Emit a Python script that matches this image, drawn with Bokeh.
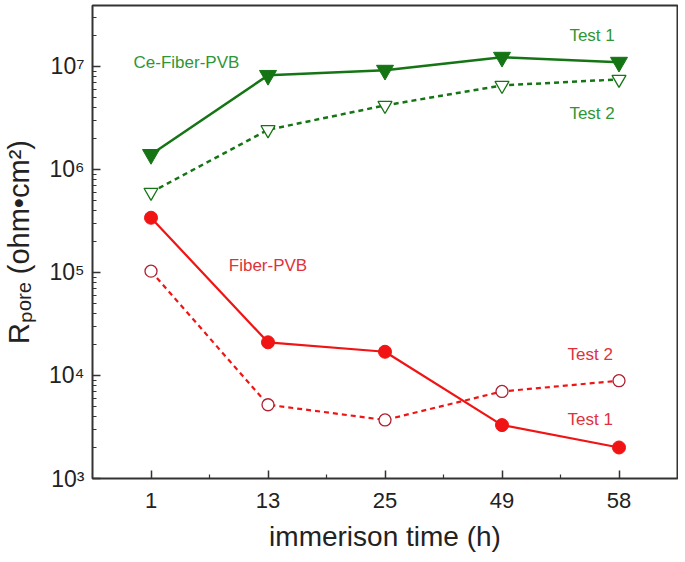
from bokeh.plotting import figure
from bokeh.models import Range1d, FixedTicker, CustomJSTickFormatter, Label, ColumnDataSource
from bokeh.embed import file_html
from bokeh.resources import INLINE

# ---- data ----
times = ["1", "13", "25", "49", "58"]
ce_test1 = [1.4e6, 8.2e6, 9.2e6, 1.23e7, 1.1e7]
ce_test2 = [6.0e5, 2.43e6, 4.19e6, 6.55e6, 7.5e6]
fiber_test1 = [3.4e5, 2.1e4, 1.7e4, 3.3e3, 2.0e3]
fiber_test2 = [1.03e5, 5.2e3, 3.7e3, 7.0e3, 8.9e3]
y_decades = [3, 4, 5, 6, 7]

xi = list(range(len(times)))

FONT = "Liberation Sans"
GREEN = "#157515"
GREEN_TXT = "#2f9636"
RED = "#f01414"
RED_DARK = "#b02030"
RED_TXT = "#e0323c"
FRAME = "#333333"

Y_TOP_LOG = 7.592
p = figure(width=678, height=560,
           x_range=Range1d(-0.5, 4.5), y_range=Range1d(1e3, 10 ** Y_TOP_LOG),
           y_axis_type="log", output_backend="svg", toolbar_location=None,
           min_border_left=92, min_border_right=1, min_border_top=5, min_border_bottom=82)
p.grid.visible = False
p.outline_line_color = FRAME
p.outline_line_width = 2
p.background_fill_color = "white"
p.border_fill_color = "white"

# x axis
p.xaxis.ticker = FixedTicker(ticks=xi, minor_ticks=[i + 0.5 for i in xi[:-1]])
p.xaxis.major_label_overrides = {i: t for i, t in zip(xi, times)}
p.xaxis.axis_label = "immerison time (h)"
# y axis
p.yaxis.ticker = FixedTicker(ticks=[10 ** d for d in y_decades],
                             minor_ticks=[m * 10 ** d for d in y_decades for m in range(2, 10)])
p.yaxis.formatter = CustomJSTickFormatter(code="""
const sup = {"0":"\u2070","1":"\u00b9","2":"\u00b2","3":"\u00b3","4":"\u2074","5":"\u2075","6":"\u2076","7":"\u2077","8":"\u2078","9":"\u2079","-":"\u207b"};
const e = Math.round(Math.log10(tick));
return "10" + String(e).split("").map(c => sup[c]).join("");
""")
p.yaxis.axis_label = "R\u209a\u2092\u1d63\u2091 (ohm\u2022cm\u00b2)"

for ax in p.axis:
    ax.axis_line_color = None
    ax.major_tick_in = 8
    ax.major_tick_out = 0
    ax.minor_tick_in = 4
    ax.minor_tick_out = 0
    ax.major_tick_line_color = FRAME
    ax.minor_tick_line_color = FRAME
    ax.major_tick_line_width = 1.5
    ax.minor_tick_line_width = 1.2
    ax.major_label_text_font = FONT
    ax.major_label_text_color = "#222222"
    ax.axis_label_text_font = FONT
    ax.axis_label_text_font_style = "normal"
    ax.axis_label_text_color = "#222222"

p.xaxis.major_label_text_font_size = "22px"
p.xaxis.major_label_standoff = 14
p.xaxis.axis_label_text_font_size = "28px"
p.xaxis.axis_label_standoff = 10
p.yaxis.major_label_text_font_size = "23px"
p.yaxis.major_label_standoff = 8
p.yaxis.axis_label_text_font_size = "29px"
p.yaxis.axis_label_standoff = 11

# ---- series ----
src = ColumnDataSource(dict(x=xi, ce1=ce_test1, ce2=ce_test2, f1=fiber_test1, f2=fiber_test2))

p.line("x", "ce1", source=src, line_color=GREEN, line_width=2.5)
p.line("x", "ce2", source=src, line_color=GREEN, line_width=2.5, line_dash="5 4")
p.line("x", "f1", source=src, line_color=RED, line_width=2.2)
p.line("x", "f2", source=src, line_color=RED, line_width=2.2, line_dash="5 4")

p.scatter("x", "ce1", source=src, marker="inverted_triangle", size=17,
          fill_color=GREEN, line_color=GREEN)
p.scatter("x", "ce2", source=src, marker="inverted_triangle", size=14,
          fill_color="white", line_color=GREEN, line_width=1.3)
p.scatter("x", "f1", source=src, marker="circle", size=13,
          fill_color=RED, line_color=RED)
p.scatter("x", "f2", source=src, marker="circle", size=12,
          fill_color="white", line_color=RED_DARK, line_width=1.3)

# ---- annotations ----
def note(x, y, txt, color):
    p.add_layout(Label(x=x, y=y, text=txt, text_color=color, text_font=FONT,
                       text_font_size="17px", text_align="center", text_baseline="middle"))

note(0.303, 1.1e7, "Ce-Fiber-PVB", GREEN_TXT)
note(3.77, 2.0e7, "Test 1", GREEN_TXT)
note(3.77, 3.52e6, "Test 2", GREEN_TXT)
note(1.0, 1.17e5, "Fiber-PVB", RED_TXT)
note(3.754, 1.6e4, "Test 2", RED_TXT)
note(3.754, 3.72e3, "Test 1", RED_TXT)

open("out.html", "w").write(file_html(p, INLINE))
